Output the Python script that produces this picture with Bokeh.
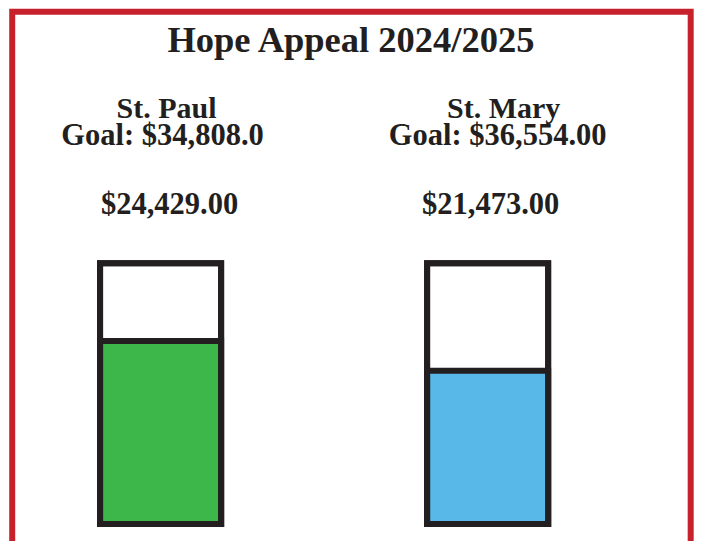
from bokeh.plotting import figure
from bokeh.models import Range1d
from bokeh.core.properties import value
from bokeh.embed import file_html
from bokeh.resources import INLINE

# ---- data ----
title_text = "Hope Appeal 2024/2025"
parishes = ["St. Paul", "St. Mary"]
goals = [34808.0, 36554.00]
raised = [24429.00, 21473.00]
goal_labels = ["Goal: $34,808.0", "Goal: $36,554.00"]
raised_labels = ["$24,429.00", "$21,473.00"]
fill_colors = ["#3db64a", "#58b8e8"]

# ---- layout: design space is 715 x 558 px, drawn on a slightly smaller canvas ----
REF_W, REF_H = 715, 558
W, H = 698, 541
SX, X0 = 335.0, 164.0      # design px per x unit, design x of first thermometer
SY, Y0 = 269.0, 540.0      # design px per y unit (fraction of goal), design y of 0
TEXT_SHIFT = 12.0          # baseline correction for rendered text


def xd(px):
    return (px - X0) / SX


def yd(py):
    return (Y0 - py) / SY


def yt(py):
    return yd(py - TEXT_SHIFT)


INK = "#231f20"
RED = "#c8212e"
FONT = value("Liberation Serif")

p = figure(width=W, height=H, output_backend="svg", toolbar_location=None,
           x_range=Range1d(xd(0), xd(REF_W)), y_range=Range1d(yd(REF_H), yd(0)),
           x_axis_type=None, y_axis_type=None, min_border=0,
           background_fill_color="white", border_fill_color="white")
p.title.visible = False
p.grid.visible = False
p.outline_line_color = None

# red frame (open at the bottom, as cropped in the reference)
p.line(x=[xd(12), xd(12), xd(707), xd(707)],
       y=[yd(REF_H + 20), yd(11.5), yd(11.5), yd(REF_H + 20)],
       line_color=RED, line_width=6, line_join="miter")

idx = list(range(len(parishes)))
frac = [r / g for r, g in zip(raised, goals)]
hw = 62.0 / SX
lefts = [i - hw for i in idx]
rights = [i + hw for i in idx]

# thermometer body (goal = 1.0)
p.quad(left=lefts, right=rights, bottom=[0] * len(idx), top=[1.0] * len(idx),
       fill_color="white", line_color=INK, line_width=6, line_join="miter")
# raised fill
p.quad(left=lefts, right=rights, bottom=[0] * len(idx), top=frac,
       fill_color=fill_colors, line_color=INK, line_width=6, line_join="miter")
# outline on top
p.quad(left=lefts, right=rights, bottom=[0] * len(idx), top=[1.0] * len(idx),
       fill_color=None, line_color=INK, line_width=6, line_join="miter")

common = dict(text_align="center", text_baseline="alphabetic", text_font=FONT,
              text_font_style="bold", text_color=INK)

p.text(x=[xd(360)], y=[yt(52)], text=[title_text], text_font_size="36.5px", **common)
p.text(x=idx, y=[yt(122)] * len(idx), text=parishes, x_offset=[6, 16],
       text_font_size="30px", **common)
p.text(x=idx, y=[yt(151)] * len(idx), text=goal_labels, x_offset=[2, 10],
       text_font_size="30.5px", **common)
p.text(x=idx, y=[yt(222)] * len(idx), text=raised_labels, x_offset=[9, 3],
       text_font_size="30.5px", **common)

open("out.html", "w").write(file_html(p, INLINE))
